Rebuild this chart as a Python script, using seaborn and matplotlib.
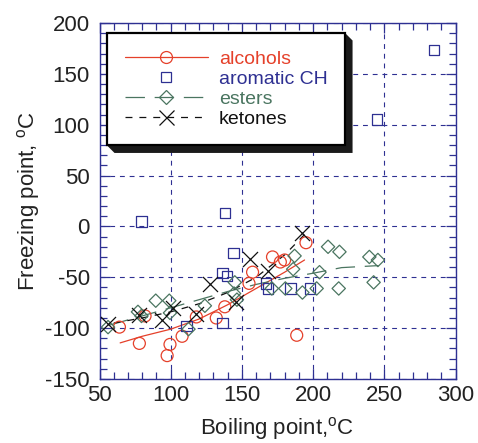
import matplotlib
matplotlib.use("Agg")
import matplotlib.pyplot as plt
from matplotlib.lines import Line2D
from matplotlib.patches import Polygon
from matplotlib.ticker import MultipleLocator
import seaborn as sns

# Measured compounds: boiling point vs freezing point (°C)
alcohol_bp = [64, 78, 82, 97.5, 99.5, 108, 118, 132, 138, 155, 157.5, 171.5, 177, 180, 195, 188.5]
alcohol_fp = [-99, -115, -88, -127, -116, -108, -89, -90, -79, -56, -45, -30, -35, -33, -16, -107]

aromatic_bp = [79.5, 138, 144, 136.5, 139.5, 136.5, 111, 167, 168.5, 184, 198, 285, 245]
aromatic_fp = [5, 13, -26, -46, -49, -95, -98, -56, -61, -61, -61, 173.5, 105]

ester_bp = [56, 77, 79.5, 89.5, 99, 99.5, 112.5, 124, 145, 144.5, 146.5, 187, 186, 171,
            192.5, 204.5, 210.5, 218.5, 218, 202.5, 180.5, 239.5, 245.5, 242.5]
ester_fp = [-99, -84, -88, -73, -73, -85, -101, -78, -55, -66, -72, -29, -42, -61,
            -65, -45, -20, -25, -61, -61, -61, -30, -33, -55]

ketone_bp = [56, 78, 94, 101.5, 118, 127.5, 146, 155.5, 168, 192]
ketone_fp = [-96, -87, -92, -80, -86, -57, -74, -32, -44, -6]

# Trend curves for each family
alcohol_fit_bp = [64.5, 80, 100, 120, 140, 160, 180, 194]
alcohol_fit_fp = [-114.5, -108, -101, -91, -77, -61, -45, -33]

ester_fit_bp = [57, 80, 100, 120, 140, 160, 180, 200, 220, 246]
ester_fit_fp = [-97, -88, -80, -72, -64, -57, -51, -46, -40.5, -38.5]

ketone_fit_bp = [60, 80, 100, 120, 140, 160, 180, 194]
ketone_fit_fp = [-95, -90, -84, -76, -65, -50, -28, -8]

series_names = ["alcohols", "aromatic CH", "esters", "ketones"]

RED = "#e5402a"
NAVY = "#2e3092"
GREEN = "#4a7560"
BLACK = "#111111"

sns.set_style("ticks")
plt.rcParams["font.family"] = ["Liberation Sans", "DejaVu Sans"]
plt.rcParams["mathtext.fontset"] = "custom"
plt.rcParams["mathtext.rm"] = "Liberation Sans"
plt.rcParams["axes.unicode_minus"] = False
plt.rcParams["lines.scale_dashes"] = False

fig, ax = plt.subplots(figsize=(4.78, 4.43), dpi=100)
fig.subplots_adjust(left=99.5 / 478, right=455.5 / 478,
                    bottom=(443 - 379) / 443, top=(443 - 23) / 443)

mlw = 0.9
# trend lines
sns.lineplot(x=alcohol_fit_bp, y=alcohol_fit_fp, ax=ax, color=RED, lw=0.9,
             sort=False, estimator=None, zorder=3)
sns.lineplot(x=ester_fit_bp, y=ester_fit_fp, ax=ax, color=GREEN, lw=0.9,
             linestyle=(0, (14, 7)), sort=False, estimator=None, zorder=3)
sns.lineplot(x=ketone_fit_bp, y=ketone_fit_fp, ax=ax, color=BLACK, lw=0.9,
             linestyle=(0, (5, 5)), sort=False, estimator=None, zorder=3)

# data points
sns.scatterplot(x=alcohol_bp, y=alcohol_fp, ax=ax, marker="o", s=74,
                facecolor="none", edgecolor=RED, linewidth=mlw, legend=False, zorder=4)
sns.scatterplot(x=aromatic_bp, y=aromatic_fp, ax=ax, marker="s", s=56,
                facecolor="none", edgecolor=NAVY, linewidth=mlw, legend=False, zorder=4)
sns.scatterplot(x=ester_bp, y=ester_fp, ax=ax, marker="D", s=46,
                facecolor="none", edgecolor=GREEN, linewidth=mlw, legend=False, zorder=4)
sns.scatterplot(x=ketone_bp, y=ketone_fp, ax=ax, marker="x", s=117,
                color=BLACK, linewidth=mlw, legend=False, zorder=4)

ax.set_xlim(50, 300)
ax.set_ylim(-150, 200)
ax.xaxis.set_major_locator(MultipleLocator(50))
ax.yaxis.set_major_locator(MultipleLocator(50))
ax.xaxis.set_minor_locator(MultipleLocator(10))
ax.yaxis.set_minor_locator(MultipleLocator(10))

for sp in ax.spines.values():
    sp.set_color(NAVY)
    sp.set_linewidth(1.0)
ax.tick_params(which="both", direction="in", top=True, right=True,
               color=NAVY, width=0.9, labelsize=16, labelcolor="#222222")
ax.tick_params(which="major", length=7)
ax.tick_params(which="minor", length=5)
ax.tick_params(axis="y", pad=7)
ax.tick_params(axis="x", pad=4)
ax.grid(True, which="major", color=NAVY, linestyle=(0, (3.5, 3.5)), linewidth=0.8)
ax.set_axisbelow(True)

ax.set_xlabel(r"Boiling point,$^{\mathrm{o}}$C", fontsize=16, color="#222222", labelpad=7)
ax.set_ylabel(r"Freezing point, $^{\mathrm{o}}$C", fontsize=16, color="#222222", labelpad=2)

handles = [
    Line2D([], [], color=RED, lw=0.9, marker="o", ms=8.6, mfc="none", mec=RED, mew=mlw),
    Line2D([], [], color=NAVY, lw=0, marker="s", ms=7.5, mfc="none", mec=NAVY, mew=mlw),
    Line2D([], [], color=GREEN, lw=0.9, linestyle=(0, (14, 7)), marker="D", ms=6.8,
           mfc="none", mec=GREEN, mew=mlw),
    Line2D([], [], color=BLACK, lw=0.9, linestyle=(0, (5, 5)), marker="x", ms=10.8,
           mec=BLACK, mew=mlw),
]
leg = ax.legend(handles, series_names, loc="upper left",
                bbox_to_anchor=(107 / 478, 410 / 443), bbox_transform=fig.transFigure,
                borderaxespad=0, fontsize=14, frameon=True, fancybox=False,
                framealpha=1, edgecolor="black", borderpad=0.9, handlelength=4.3,
                handletextpad=0.55, labelspacing=0.12)
leg.get_frame().set_linewidth(1.6)
leg.set_zorder(6)
for txt, c in zip(leg.get_texts(), [RED, NAVY, GREEN, BLACK]):
    txt.set_color(c)

# drop shadow behind the legend box
fig.canvas.draw()
bb = leg.get_window_extent()
W, H = fig.bbox.width, fig.bbox.height
d = 7.5
L, B, R, T = bb.x0, bb.y0, bb.x1, bb.y1
pts = [(L, B), (L + d, B - d), (R + d, B - d), (R + d, T - d), (R, T)]
shadow = Polygon([(x / W, y / H) for x, y in pts], closed=True, transform=fig.transFigure,
                 facecolor="#1a1a1a", edgecolor="none", clip_on=False, zorder=5.9)
ax.add_patch(shadow)

fig.savefig("out.png", dpi=100)
